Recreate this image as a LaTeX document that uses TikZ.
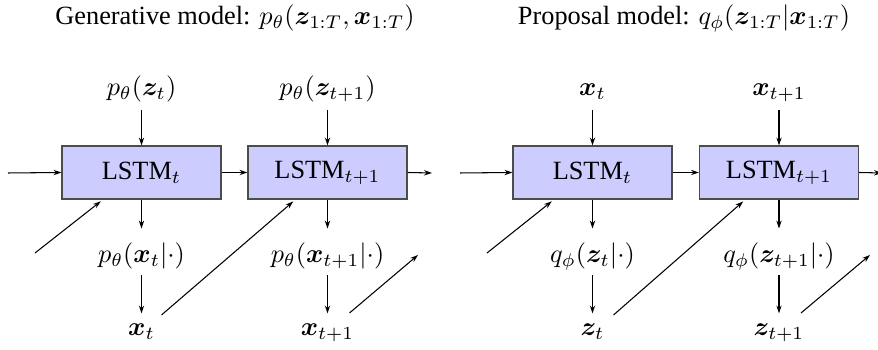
\documentclass[tikz,border=0pt]{standalone}
\usepackage[no-math]{fontspec}
\setmainfont{Liberation Serif}
\usepackage{bm}
\usetikzlibrary{arrows.meta,calc}
\begin{document}
\begin{tikzpicture}[x=0.38pt,y=-0.38pt,
  cell/.style={draw=black!70,fill=blue!20,line width=0.45pt,
    minimum width=60.4pt,minimum height=20.1pt,inner sep=0pt},
  lbl/.style={inner sep=0pt,text height=7.5pt,text depth=2.5pt,anchor=base},
  ttl/.style={inner sep=0pt,anchor=base},
  arr/.style={-{Stealth[length=3pt,width=2pt]},line width=0.4pt},
  topin/.style={arr,shorten <=2.8pt},
  midin/.style={arr,shorten >=5.4pt},
  midout/.style={arr,shorten <=2pt,shorten >=0.9pt},
  diag/.style={arr,shorten >=1.1pt},
]
\useasboundingbox (0,0) rectangle (878,350);

% ---------- generative model ----------
\node[ttl] (gtitle) at (235,25) {Generative model: $p_\theta(\bm{z}_{1:T},\bm{x}_{1:T})$};
\node[cell] (g1) at (141.5,172.5) {LSTM$_t$};
\node[cell] (g2) at (327.5,172.5) {LSTM$_{t+1}$};
\node[lbl] (gp1) at (141.5,96) {$p_\theta(\bm{z}_t)$};
\node[lbl] (gp2) at (327.5,96) {$p_\theta(\bm{z}_{t+1})$};
\node[lbl] (go1) at (141.5,263) {$p_\theta(\bm{x}_t|\cdot)$};
\node[lbl] (go2) at (327.5,263) {$p_\theta(\bm{x}_{t+1}|\cdot)$};
\node[lbl] (gx1) at (141.5,336) {$\bm{x}_t$};
\node[lbl] (gx2) at (327.5,336) {$\bm{x}_{t+1}$};
\coordinate (gin) at (8,173);
\coordinate (gout) at (432,173);
\coordinate (gd1) at (35,253);
\coordinate (gd3) at (418,255);

\draw[arr] (gin) -- (g1.west);
\draw[arr] (g1.east) -- (g2.west);
\draw[arr] (g2.east) -- (gout);
\draw[topin] (gp1.south) -- (g1.north);
\draw[topin] (gp2.south) -- (g2.north);
\draw[midin] (g1.south) -- (go1.north);
\draw[midin] (g2.south) -- (go2.north);
\draw[midout] (go1.south) -- (gx1.north);
\draw[midout] (go2.south) -- (gx2.north);
\draw[diag] (gd1) -- ($(g1.south west)!0.26!(g1.south east)$);
\draw[diag] ($(gx1.base)+(20,-21)$) -- ($(g2.south west)!0.30!(g2.south east)$);
\draw[arr] ($(gx2.base)+(22,-23)$) -- (gd3);

% ---------- proposal model ----------
\node[ttl] (qtitle) at (684,25) {Proposal model: $q_\phi(\bm{z}_{1:T}|\bm{x}_{1:T})$};
\node[cell] (q1) at (592.5,172.5) {LSTM$_t$};
\node[cell] (q2) at (779,172.5) {LSTM$_{t+1}$};
\node[lbl] (qp1) at (592.5,96) {$\bm{x}_t$};
\node[lbl] (qp2) at (779,96) {$\bm{x}_{t+1}$};
\node[lbl] (qo1) at (592.5,263) {$q_\phi(\bm{z}_t|\cdot)$};
\node[lbl] (qo2) at (779,263) {$q_\phi(\bm{z}_{t+1}|\cdot)$};
\node[lbl] (qz1) at (592.5,336) {$\bm{z}_t$};
\node[lbl] (qz2) at (779,336) {$\bm{z}_{t+1}$};
\coordinate (qin) at (460,173);
\coordinate (qout) at (882,173);
\coordinate (qd1) at (487,253);
\coordinate (qd3) at (870,255);

\draw[arr] (qin) -- (q1.west);
\draw[arr] (q1.east) -- (q2.west);
\draw[arr] (q2.east) -- (qout);
\draw[topin] (qp1.south) -- (q1.north);
\draw[topin] (qp2.south) -- (q2.north);
\draw[midin] (q1.south) -- (qo1.north);
\draw[midin] (q2.south) -- (qo2.north);
\draw[midout] (qo1.south) -- (qz1.north);
\draw[midout] (qo2.south) -- (qz2.north);
\draw[diag] (qd1) -- ($(q1.south west)!0.26!(q1.south east)$);
\draw[diag] ($(qz1.base)+(21,-21)$) -- ($(q2.south west)!0.29!(q2.south east)$);
\draw[arr] ($(qz2.base)+(22,-23)$) -- (qd3);
\end{tikzpicture}
\end{document}
